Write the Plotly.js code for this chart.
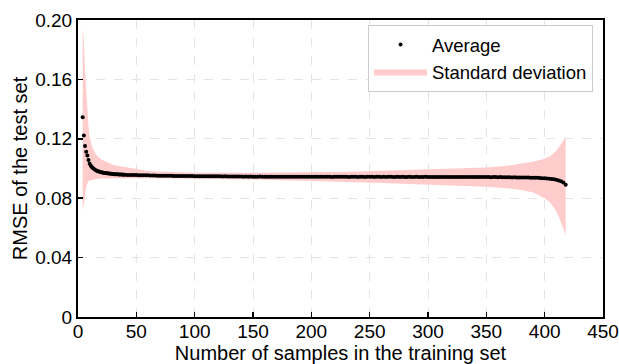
<!DOCTYPE html>
<html>
<head>
<meta charset="utf-8">
<script src="https://cdn.plot.ly/plotly-3.0.1.min.js"></script>
<style>html,body{margin:0;padding:0;background:#fff;}#chart{width:619px;height:364px;}</style>
</head>
<body>
<div id="chart"></div>
<script>
// Sample sizes (number of samples in the training set) for the average points
var sampleCounts = [
  4,5,6,7,8,9,10,11,12,13,14,15,16,17,18,19,20,21,22,23,24,25,26,27,28,29,30,31,32,33,34,35,36,37,38,39,40,
  42,44,46,48,50,52,54,56,58,60,62,64,66,68,70,72,74,76,78,80,82,84,86,88,90,92,94,96,98,100,
  102,104,106,108,110,112,114,116,118,120,122,124,126,128,130,132,134,136,138,140,142,144,146,148,150,
  152,154,156,158,160,162,164,166,168,170,172,174,176,178,180,182,184,186,188,190,192,194,196,198,200,
  202,204,206,208,210,212,214,216,218,220,222,224,226,228,230,232,234,236,238,240,242,244,246,248,250,
  252,254,256,258,260,262,264,266,268,270,272,274,276,278,280,282,284,286,288,290,292,294,296,298,300,
  302,304,306,308,310,312,314,316,318,320,322,324,326,328,330,332,334,336,338,340,342,344,346,348,350,
  352,354,356,358,360,362,364,366,368,370,372,374,376,378,380,382,384,386,388,390,392,394,396,398,400,
  402,404,406,408,410,412,414,416,418
];
// Average RMSE of the test set
var rmseAverage = [
  0.1345,0.1222,0.1152,0.1113,0.1088,0.1058,0.1032,0.1018,0.1008,0.1001,0.0995,0.0990,0.0985,0.0982,0.0979,0.0977,0.0975,0.0973,0.0972,0.0970,0.0969,0.0968,0.0967,0.0966,0.0965,0.0964,0.0963,0.0962,0.0962,0.0961,0.0961,0.0960,0.0960,0.0959,0.0959,0.0958,0.0958,
  0.0957,0.0957,0.0956,0.0956,0.0956,0.0955,0.0955,0.0954,0.0954,0.0954,0.0953,0.0953,0.0953,0.0952,0.0952,0.0952,0.0951,0.0951,0.0951,0.0951,0.0950,0.0950,0.0950,0.0950,0.0949,0.0949,0.0949,0.0949,0.0949,0.0948,
  0.0948,0.0948,0.0948,0.0948,0.0947,0.0948,0.0947,0.0947,0.0947,0.0947,0.0947,0.0946,0.0947,0.0946,0.0946,0.0946,0.0946,0.0946,0.0946,0.0946,0.0945,0.0946,0.0945,0.0946,0.0945,
  0.0945,0.0945,0.0946,0.0945,0.0945,0.0944,0.0945,0.0945,0.0945,0.0944,0.0945,0.0945,0.0944,0.0945,0.0945,0.0944,0.0945,0.0944,0.0945,0.0944,0.0945,0.0944,0.0944,0.0945,0.0944,
  0.0944,0.0945,0.0944,0.0944,0.0944,0.0945,0.0944,0.0944,0.0943,0.0944,0.0944,0.0944,0.0945,0.0944,0.0944,0.0943,0.0944,0.0944,0.0944,0.0943,0.0944,0.0944,0.0943,0.0944,0.0944,
  0.0944,0.0943,0.0944,0.0944,0.0943,0.0944,0.0943,0.0944,0.0944,0.0943,0.0943,0.0944,0.0943,0.0944,0.0943,0.0943,0.0944,0.0943,0.0943,0.0944,0.0943,0.0943,0.0943,0.0944,0.0943,
  0.0943,0.0943,0.0942,0.0943,0.0943,0.0943,0.0942,0.0943,0.0943,0.0942,0.0943,0.0943,0.0942,0.0943,0.0942,0.0943,0.0942,0.0942,0.0943,0.0942,0.0942,0.0942,0.0943,0.0942,0.0942,
  0.0942,0.0941,0.0942,0.0942,0.0941,0.0942,0.0941,0.0941,0.0941,0.0941,0.0940,0.0941,0.0940,0.0940,0.0940,0.0939,0.0939,0.0939,0.0938,0.0938,0.0937,0.0937,0.0936,0.0935,0.0934,
  0.0933,0.0931,0.0929,0.0927,0.0924,0.0920,0.0914,0.0905,0.0890
];
// Standard deviation band edges
var bandCounts = [4,5,6,7,8,9,10,12,14,16,20,25,30,36,50,62,80,100,150,200,233,260,302,330,350,370,380,390,400,405,410,413,415,418];
var bandUpper  = [0.195,0.186,0.166,0.150,0.137,0.128,0.121,0.115,0.1115,0.109,0.106,0.104,0.1025,0.1015,0.0995,0.0982,0.0976,0.0972,0.0971,0.0974,0.0978,0.0985,0.0994,0.1000,0.1007,0.1020,0.1030,0.1045,0.1065,0.1085,0.1120,0.1150,0.1175,0.1210];
var bandLower  = [0.072,0.076,0.081,0.088,0.0905,0.0915,0.092,0.0925,0.0928,0.0930,0.0932,0.0933,0.0934,0.0934,0.0935,0.0935,0.0934,0.0933,0.0926,0.0916,0.0910,0.0903,0.0890,0.0884,0.0877,0.0865,0.0855,0.0838,0.0800,0.0770,0.0710,0.0660,0.0620,0.0550];

var yTickVals = [0,0.04,0.08,0.12,0.16,0.20];
var yTickText = ['0','0.04','0.08','0.12','0.16','0.20'];
var xTickVals = [0,50,100,150,200,250,300,350,400,450];

var FONT = '"Liberation Sans", Arial, Helvetica, sans-serif';

var traces = [
  {x: bandCounts, y: bandLower, type: 'scatter', mode: 'lines', line: {width: 0, color: '#ffcccc'},
   showlegend: false, hoverinfo: 'skip', legendgroup: 'sd'},
  {x: bandCounts, y: bandUpper, type: 'scatter', mode: 'lines', line: {width: 0, color: '#ffcccc'},
   fill: 'tonexty', fillcolor: '#ffcccc', name: 'Standard deviation', legendgroup: 'sd', legendrank: 2},
  {x: sampleCounts, y: rmseAverage, type: 'scatter', mode: 'markers', name: 'Average',
   marker: {color: '#000', size: 4}, legendgroup: 'avg', legendrank: 1}
];

var axisCommon = {
  showline: true, linecolor: '#000', linewidth: 2, mirror: true,
  ticks: 'inside', ticklen: 5, tickwidth: 1.5, tickcolor: '#000',
  showgrid: true, gridcolor: '#e4e4e4', gridwidth: 1, griddash: 'dash',
  zeroline: false, tickfont: {family: FONT, size: 19, color: '#000'}
};

var layout = {
  width: 619, height: 364,
  margin: {l: 78, r: 16, t: 20, b: 47},
  paper_bgcolor: '#fff', plot_bgcolor: '#fff',
  font: {family: FONT, color: '#000'},
  showlegend: true,
  xaxis: Object.assign({}, axisCommon, {
    range: [0, 450], tickvals: xTickVals, ticktext: xTickVals.map(String),
    ticklabelstandoff: -4,
    title: {text: 'Number of samples in the training set', font: {family: FONT, size: 20, color: '#000'}, standoff: 16}
  }),
  yaxis: Object.assign({}, axisCommon, {
    range: [0, 0.2], tickvals: yTickVals, ticktext: yTickText,
    title: {text: 'RMSE of the test set', font: {family: FONT, size: 20, color: '#000'}}
  }),
  legend: {
    x: 0.981, xanchor: 'right', y: 0.983, yanchor: 'top',
    bgcolor: '#fff', bordercolor: '#cccccc', borderwidth: 1,
    font: {family: FONT, size: 18.5, color: '#000'},
    itemwidth: 53,
    traceorder: 'grouped', tracegroupgap: 0
  },
  hovermode: false
};

Plotly.newPlot('chart', traces, layout, {staticPlot: true, displayModeBar: false});
</script>
</body>
</html>
